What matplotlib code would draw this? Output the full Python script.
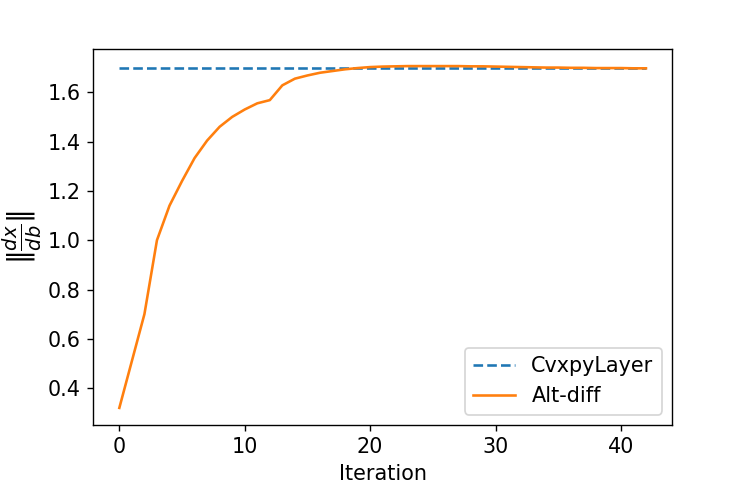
import matplotlib
matplotlib.use("Agg")
import matplotlib.pyplot as plt

iterations = list(range(43))
alt_diff = [0.32, 0.51, 0.70, 1.00, 1.14, 1.24, 1.333, 1.404, 1.46, 1.50, 1.53,
            1.555, 1.568, 1.628, 1.655, 1.668, 1.679, 1.686, 1.693, 1.698, 1.702,
            1.704, 1.705, 1.706, 1.706, 1.706, 1.706, 1.706, 1.705, 1.705, 1.704,
            1.703, 1.702, 1.701, 1.700, 1.700, 1.699, 1.699, 1.698, 1.698, 1.698,
            1.697, 1.697]
cvxpy_value = 1.697
cvxpy = [cvxpy_value] * len(iterations)

plt.rcParams['font.size'] = 12
fig = plt.figure(figsize=(6, 4), dpi=124.5)
ax = fig.add_axes([0.1245, 0.1466, 0.7755, 0.755])
ax.plot(iterations, cvxpy, linestyle='--', color='#1f77b4', linewidth=1.5, label='CvxpyLayer')
ax.plot(iterations, alt_diff, color='#ff7f0e', linewidth=1.5, label='Alt-diff')
ax.set_xlabel('Iteration', fontsize=12)
ax.set_ylabel(r'$\|\frac{dx}{db}\|$', fontsize=16, labelpad=2)
ax.set_yticks([0.4, 0.6, 0.8, 1.0, 1.2, 1.4, 1.6])
ax.set_xticks([0, 10, 20, 30, 40])
ax.tick_params(labelsize=12)
ax.legend(loc='lower right', fontsize=12)
fig.savefig('out.png', dpi=124.5)
